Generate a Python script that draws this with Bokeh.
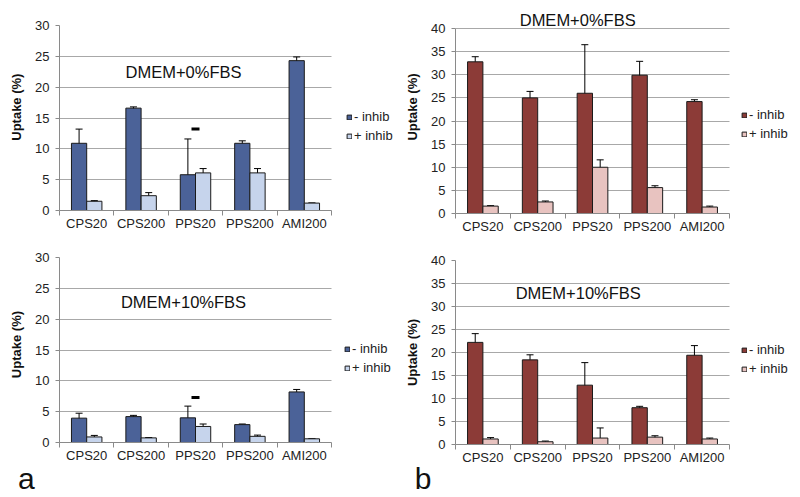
import numpy as np
from bokeh.plotting import figure
from bokeh.models import (Range1d, FixedTicker, SingleIntervalTicker, Whisker, TeeHead,
                          ColumnDataSource, Legend, LegendItem, Label)
from bokeh.layouts import column, row
from bokeh.embed import file_html
from bokeh.resources import INLINE

categories = ["CPS20", "CPS200", "PPS20", "PPS200", "AMI200"]
series_names = ["- inhib", "+ inhib"]
panel_letters = ["a", "b"]
y_label = "Uptake (%)"

# Panel a (blue), DMEM+0%FBS
a0_minus = [10.9, 16.6, 5.8, 10.9, 24.3]
a0_minus_err = [2.3, 0.2, 5.8, 0.4, 0.6]
a0_plus = [1.5, 2.4, 6.1, 6.1, 1.2]
a0_plus_err = [0.1, 0.5, 0.7, 0.7, 0.0]
a0_dash = 13.2

# Panel a (blue), DMEM+10%FBS
a10_minus = [3.95, 4.2, 4.0, 2.9, 8.2]
a10_minus_err = [0.8, 0.2, 1.9, 0.1, 0.4]
a10_plus = [0.9, 0.75, 2.6, 1.0, 0.6]
a10_plus_err = [0.25, 0.05, 0.4, 0.2, 0.05]
a10_dash = 7.3

# Panel b (red), DMEM+0%FBS
b0_minus = [32.8, 25.0, 26.0, 29.9, 24.2]
b0_minus_err = [1.1, 1.4, 10.5, 3.0, 0.4]
b0_plus = [1.6, 2.5, 10.0, 5.6, 1.4]
b0_plus_err = [0.1, 0.2, 1.6, 0.4, 0.2]

# Panel b (red), DMEM+10%FBS
b10_minus = [22.2, 18.4, 12.9, 8.0, 19.4]
b10_minus_err = [1.9, 1.1, 4.9, 0.3, 2.1]
b10_plus = [1.2, 0.6, 1.4, 1.6, 1.2]
b10_plus_err = [0.3, 0.15, 2.2, 0.3, 0.2]

FONT = "Liberation Sans"
BLUE_DARK, BLUE_LIGHT = "#4b6298", "#c6d4ec"
RED_DARK, RED_LIGHT = "#8c3b37", "#e8c3c0"
NCAT = len(categories)
NBSP = "\u00a0"


def panel(minus, minus_err, plus, plus_err, ymax, dark, light, title, title_xy,
          legend_xy, borders, frame, x_end, y_end, dash_y=None, label_shift=0):
    left, right, top, bottom = borders
    fw, fh = frame
    p = figure(width=left + fw + right, height=top + fh + bottom, title=None,
               min_border_left=left, min_border_right=right,
               min_border_top=top, min_border_bottom=bottom,
               x_range=Range1d(0.5, x_end), y_range=Range1d(0, y_end),
               output_backend="svg", toolbar_location=None)
    p.outline_line_color = None
    p.xgrid.visible = False
    p.ygrid.ticker = SingleIntervalTicker(interval=5)
    p.ygrid.bounds = (0, ymax)
    p.ygrid.cross_bounds = (0.5, NCAT + 0.5)
    p.ygrid.grid_line_color = "#a8a8a8"
    p.ygrid.grid_line_width = 1

    idx = np.arange(1, NCAT + 1)
    off = 0.14
    w = 0.28
    sm = ColumnDataSource(dict(x=idx - off, top=minus,
                               upper=np.array(minus) + np.array(minus_err),
                               lower=np.clip(np.array(minus) - np.array(minus_err), 0, None)))
    sp = ColumnDataSource(dict(x=idx + off, top=plus,
                               upper=np.array(plus) + np.array(plus_err),
                               lower=np.clip(np.array(plus) - np.array(plus_err), 0, None)))
    rm = p.vbar(x="x", top="top", width=w, bottom=0, source=sm,
                fill_color=dark, line_color="#1a1a1a", line_width=1)
    rp = p.vbar(x="x", top="top", width=w, bottom=0, source=sp,
                fill_color=light, line_color="#1a1a1a", line_width=1)
    for s in (sm, sp):
        wk = Whisker(source=s, base="x", upper="upper", lower="lower", dimension="height",
                     line_color="black", line_width=1,
                     upper_head=TeeHead(size=7, line_color="black", line_width=1),
                     lower_head=TeeHead(size=7, line_color="black", line_width=1))
        p.add_layout(wk)

    if dash_y is not None:
        p.scatter(x=[categories.index("PPS20") + 1], y=[dash_y], marker="dash",
                  size=8, line_width=3, line_color="black")

    xa = p.xaxis[0]
    xa.bounds = (0.5, NCAT + 0.5)
    xa.ticker = FixedTicker(ticks=list(idx), minor_ticks=list(np.arange(0.5, NCAT + 1, 1.0)))
    xa.major_label_overrides = {int(i): c for i, c in zip(idx, categories)}
    xa.major_tick_line_color = None
    xa.major_tick_out = 0
    xa.major_tick_in = 0
    xa.minor_tick_out = 5
    xa.minor_tick_in = 0
    xa.minor_tick_line_color = "#8a8a8a"
    xa.axis_line_color = "#8a8a8a"
    xa.major_label_text_font = FONT
    xa.major_label_text_font_size = "13px"
    xa.major_label_text_color = "#222222"
    xa.major_label_standoff = 0

    ya = p.yaxis[0]
    ya.bounds = (0, ymax)
    ya.ticker = SingleIntervalTicker(interval=5)
    ya.minor_tick_line_color = None
    ya.major_tick_out = 4
    ya.major_tick_in = 0
    ya.major_tick_line_color = "#8a8a8a"
    ya.axis_line_color = "#8a8a8a"
    ya.major_label_text_font = FONT
    ya.major_label_text_font_size = "13px"
    ya.major_label_text_color = "#222222"
    ya.major_label_standoff = 6
    # leading no-break spaces nudge the (centred) rotated label upwards
    ya.axis_label = NBSP * label_shift + y_label
    ya.axis_label_text_font = FONT
    ya.axis_label_text_font_style = "bold"
    ya.axis_label_text_font_size = "13px"
    ya.axis_label_text_color = "#111111"
    ya.axis_label_standoff = 8

    p.add_layout(Label(x=title_xy[0], y=title_xy[1], text=title, text_font=FONT,
                       text_font_size="16.5px", text_align="center", text_baseline="middle",
                       text_color="#111111"))

    leg = Legend(items=[LegendItem(label=series_names[0], renderers=[rm]),
                        LegendItem(label=series_names[1], renderers=[rp])],
                 location=legend_xy, orientation="vertical",
                 glyph_width=6, glyph_height=6, label_standoff=2,
                 label_text_font=FONT, label_text_font_size="13px", label_text_color="#222222",
                 label_height=19, spacing=0, padding=0, margin=0,
                 border_line_color=None, background_fill_alpha=0)
    p.add_layout(leg)
    return p


def letter_fig(text, x_center, width, height):
    f = figure(width=width, height=height, title=None,
               x_range=Range1d(0, width), y_range=Range1d(0, height),
               x_axis_type=None, y_axis_type=None, min_border=0,
               output_backend="svg", toolbar_location=None)
    f.outline_line_color = None
    f.background_fill_alpha = 0
    f.border_fill_alpha = 0
    f.add_layout(Label(x=x_center, y=19, text=text, text_font=FONT, text_font_size="30px",
                       text_align="center", text_baseline="alphabetic", text_color="#111111"))
    return f


# a panels: frame x 59..400 (54.4 px per category); b panels: frame x 455..800 (54.8 px)
pa0 = panel(a0_minus, a0_minus_err, a0_plus, a0_plus_err, 30, BLUE_DARK, BLUE_LIGHT,
            "DMEM+0%FBS", (2.78, 22.4), (287, 65), (59, 0, 25, 34), (341, 185),
            0.5 + 341 / 54.4, 30, dash_y=a0_dash, label_shift=6)
pb0 = panel(b0_minus, b0_minus_err, b0_plus, b0_plus_err, 40, RED_DARK, RED_LIGHT,
            "DMEM+0%FBS", (2.73, 41.8), (286, 70), (55, 0, 0, 31), (345, 213),
            0.5 + 345 / 54.8, 40 * 213 / 185)
pa10 = panel(a10_minus, a10_minus_err, a10_plus, a10_plus_err, 30, BLUE_DARK, BLUE_LIGHT,
             "DMEM+10%FBS", (2.78, 22.75), (285, 65), (59, 0, 13, 33), (341, 185),
             0.5 + 341 / 54.4, 30, dash_y=a10_dash, label_shift=3)
pb10 = panel(b10_minus, b10_minus_err, b10_plus, b10_plus_err, 40, RED_DARK, RED_LIGHT,
             "DMEM+10%FBS", (2.74, 32.9), (286, 66), (55, 0, 16, 31), (345, 184),
             0.5 + 345 / 54.8, 40)
la = letter_fig(panel_letters[0], 25.8, 400, 42)
lb = letter_fig(panel_letters[1], 22.5, 400, 42)

layout = column(row(column(pa0, pa10, spacing=0), column(pb0, pb10, spacing=0), spacing=0),
                row(la, lb, spacing=0, margin=(-20, 0, 0, 0)), spacing=0)

with open("out.html", "w") as f:
    f.write(file_html(layout, INLINE))
